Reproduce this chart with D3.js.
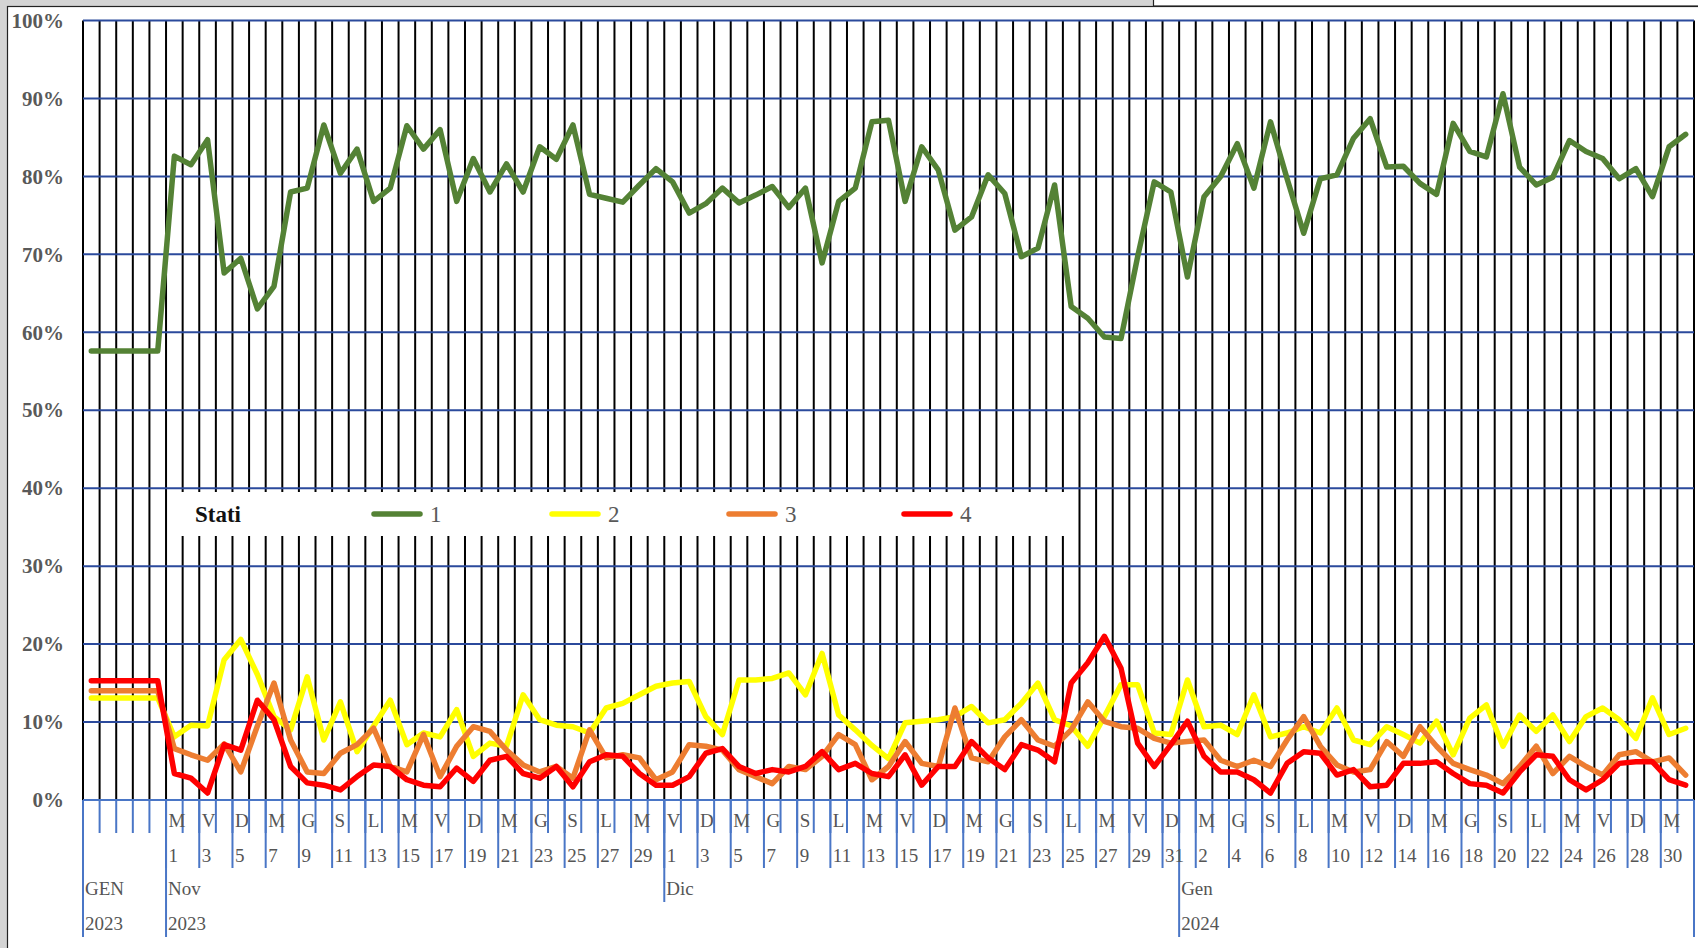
<!DOCTYPE html>
<html>
<head>
<meta charset="utf-8">
<script src="https://cdn.jsdelivr.net/npm/d3@7/dist/d3.min.js"></script>
<style>
  body { margin: 0; background: #d4d4d4; }
  svg { display: block; font-family: "Liberation Serif", "DejaVu Serif", serif; }
</style>
</head>
<body>
<div id="chart"></div>
<script>
// quote giornaliere per stato (%), 5 valori di riferimento GEN 2023 + 1 nov 2023 .. 31 gen 2024
const stato1 = [57.6, 57.6, 57.6, 57.6, 57.6,
  82.6, 81.5, 84.7, 67.6, 69.5, 63.0, 65.9, 78.0, 78.5, 86.6, 80.4, 83.5, 76.8, 78.5, 86.5, 83.5, 86.0, 76.8, 82.3, 78.0,
  81.6, 78.0, 83.8, 82.2, 86.6, 77.7, 77.2, 76.7, 78.9, 81.0, 79.3, 75.3, 76.5, 78.5, 76.6, 77.6, 78.7, 76.0, 78.5, 68.9,
  76.8, 78.5, 87.0, 87.2, 76.8, 83.8, 80.8, 73.1, 74.8, 80.2, 77.8, 69.7, 70.8, 78.9, 63.3, 61.8, 59.4, 59.2, 69.7, 79.3,
  78.0, 67.1, 77.4, 80.0, 84.2, 78.5, 87.0, 79.7, 72.7, 79.7, 80.2, 84.9, 87.4, 81.2, 81.3, 79.1, 77.7, 86.8, 83.2, 82.5,
  90.6, 81.2, 78.9, 79.9, 84.6, 83.2, 82.3, 79.7, 81.0, 77.4, 83.8, 85.4];
const stato2 = [13.1, 13.1, 13.1, 13.1, 13.1,
  8.1, 9.6, 9.5, 18.0, 20.6, 16.1, 10.7, 9.0, 15.8, 7.7, 12.6, 6.2, 9.5, 12.8, 7.1,
  8.6, 8.1, 11.6, 5.6, 7.3, 6.9, 13.5, 10.3, 9.6, 9.4, 8.6, 11.8, 12.4, 13.5, 14.6, 15.0, 15.2, 10.7, 8.4, 15.4,
  15.4, 15.6, 16.3, 13.5, 18.8, 10.9, 9.0, 7.0, 5.3, 9.9, 10.1, 10.3, 10.7, 12.0, 9.9, 10.3, 12.4, 15.0, 10.3, 9.5,
  6.9, 10.7, 14.8, 14.8, 8.6, 8.4, 15.4, 9.4, 9.6, 8.4, 13.5, 8.1, 8.6, 9.4, 8.6, 11.8, 7.7, 7.1, 9.4, 8.4,
  7.3, 10.1, 5.8, 10.5, 12.2, 6.9, 10.9, 8.8, 10.9, 7.5, 10.7, 11.8, 10.3, 7.9, 13.1, 8.4, 9.2];
const stato3 = [14.0, 14.0, 14.0, 14.0, 14.0,
  6.6, 5.8, 5.1, 7.2, 3.6, 9.5, 15.0, 7.7, 3.6, 3.4, 6.0, 7.1, 9.2, 4.3,
  3.6, 8.4, 3.0, 6.9, 9.4, 8.8, 6.4, 4.5, 3.6, 4.3, 2.8, 9.0, 5.4, 5.8, 5.4, 2.6, 3.6, 7.1, 6.9, 6.4,
  3.9, 3.0, 2.1, 4.3, 3.9, 5.6, 8.4, 7.1, 2.6, 4.3, 7.5, 4.7, 4.3, 11.8, 5.4, 4.9, 8.1, 10.3, 7.7, 6.9,
  9.0, 12.6, 10.1, 9.4, 9.2, 7.9, 7.3, 7.5, 7.7, 5.1, 4.3, 5.1, 4.3, 7.7, 10.7, 6.9, 4.5, 3.6, 3.9, 7.5,
  5.6, 9.4, 6.9, 4.7, 3.9, 3.2, 2.1, 4.3, 6.9, 3.4, 5.6, 4.3, 3.2, 5.8, 6.2, 4.9, 5.4, 3.2];
const stato4 = [15.3, 15.3, 15.3, 15.3, 15.3,
  3.4, 2.8, 0.9, 7.1, 6.4, 12.8, 10.3, 4.3, 2.2, 1.9, 1.3, 3.0, 4.5, 4.3,
  2.6, 1.9, 1.7, 4.1, 2.4, 5.1, 5.6, 3.4, 2.8, 4.3, 1.7, 4.9, 5.8, 5.6, 3.4, 1.9, 1.9, 3.0, 6.0, 6.6,
  4.3, 3.4, 3.9, 3.6, 4.3, 6.2, 3.9, 4.7, 3.4, 3.0, 5.8, 1.9, 4.3, 4.3, 7.5, 5.4, 3.9, 7.1, 6.4, 4.9,
  15.0, 17.6, 21.0, 16.9, 7.3, 4.3, 7.1, 10.1, 5.6, 3.6, 3.6, 2.6, 0.9, 4.7, 6.2, 6.0, 3.2, 3.9, 1.7, 1.9,
  4.7, 4.7, 4.9, 3.4, 2.1, 1.9, 0.9, 3.6, 5.8, 5.6, 2.6, 1.3, 2.6, 4.7, 4.9, 4.9, 2.6, 1.9];

const nomiSerie = ["1", "2", "3", "4"];
const coloriSerie = ["#548235", "#ffff00", "#ed7d31", "#ff0000"];

// gruppi dell'asse categorie
const mesi = ["GEN", "Nov", "Dic", "Gen"];
const anni = ["2023", "2023", "", "2024"];
const giorniMese = [5, 30, 31, 31];
const lettereGiorno = ["D", "L", "M", "M", "G", "V", "S"];
const yTicks = [0, 10, 20, 30, 40, 50, 60, 70, 80, 90, 100];

const giorni = d3.timeDay.range(new Date(2023, 10, 1), new Date(2024, 1, 1));
const fmt = d3.timeFormat("%Y-%m-%d");
const categorie = d3.range(giorniMese[0]).map(i => "rif-" + i).concat(giorni.map(fmt));
const serie = [stato1, stato2, stato3, stato4];

const width = 1698, height = 948;
const plotLeft = 83, plotRight = 1694, plotTop = 20.5, plotBottom = 800;

const svg = d3.select("#chart").append("svg")
  .attr("width", width)
  .attr("height", height);

// cornice
svg.append("rect").attr("width", width).attr("height", height).attr("fill", "#d4d4d4");
svg.append("rect")
  .attr("x", 7.5).attr("y", 6.5).attr("width", width).attr("height", height)
  .attr("fill", "#fff").attr("stroke", "#222").attr("stroke-width", 1.2);
svg.append("rect")
  .attr("x", 1153.5).attr("y", -2).attr("width", 560).attr("height", 8)
  .attr("fill", "#fff").attr("stroke", "#222").attr("stroke-width", 1.2);

var x = d3.scaleBand()
  .domain(categorie)
  .range([plotLeft, plotRight])
  .padding(0);

var y = d3.scaleLinear()
  .domain([0, 100])
  .range([plotBottom, plotTop]);

const bordi = d3.range(categorie.length + 1).map(k => k < categorie.length ? x(categorie[k]) : x.range()[1]);

// griglia verticale nera
svg.append("g")
  .selectAll("line")
  .data(bordi)
  .join("line")
  .attr("x1", d => d).attr("x2", d => d)
  .attr("y1", plotTop).attr("y2", plotBottom)
  .attr("stroke", "#000")
  .attr("stroke-width", 2);

// griglia orizzontale blu
svg.append("g")
  .selectAll("line")
  .data(yTicks.filter(d => d > 0))
  .join("line")
  .attr("x1", plotLeft).attr("x2", plotRight)
  .attr("y1", d => y(d)).attr("y2", d => y(d))
  .attr("stroke", "#2b4a9c")
  .attr("stroke-width", 2);

// asse y
var yAxis = svg.append("g")
  .attr("transform", "translate(" + plotLeft + ",0)")
  .call(d3.axisLeft(y).tickValues(yTicks).tickSize(0).tickPadding(19).tickFormat(d => d + "%"));
yAxis.select(".domain").remove();
yAxis.selectAll("text")
  .attr("fill", "#595959")
  .attr("font-size", 21)
  .attr("font-weight", "bold")
  .attr("font-family", "Liberation Serif, serif");

// legenda (sotto le linee)
const legenda = svg.append("g");
legenda.append("rect")
  .attr("x", 168).attr("y", 492).attr("width", 910).attr("height", 44)
  .attr("fill", "#fff");
legenda.append("text")
  .attr("x", 195).attr("y", 522)
  .attr("font-size", 23).attr("font-weight", "bold").attr("fill", "#111")
  .text("Stati");
const legendaX = [374, 552, 729, 904];
nomiSerie.forEach((nome, k) => {
  legenda.append("line")
    .attr("x1", legendaX[k]).attr("x2", legendaX[k] + 46)
    .attr("y1", 514).attr("y2", 514)
    .attr("stroke", coloriSerie[k]).attr("stroke-width", 5.5).attr("stroke-linecap", "round");
  legenda.append("text")
    .attr("x", legendaX[k] + 56).attr("y", 522)
    .attr("font-size", 23).attr("fill", "#595959")
    .text(nome);
});

// asse x (zero) e tacche
const blu = "#4a76c6";
svg.append("line")
  .attr("x1", plotLeft).attr("x2", plotRight)
  .attr("y1", plotBottom).attr("y2", plotBottom)
  .attr("stroke", blu).attr("stroke-width", 2);

const tacche = svg.append("g").attr("stroke", blu).attr("stroke-width", 2);
tacche.selectAll("line.corta")
  .data(bordi)
  .join("line")
  .attr("x1", d => d).attr("x2", d => d)
  .attr("y1", plotBottom).attr("y2", 833);

const etichettati = d3.range(giorniMese[0], categorie.length, 2);
tacche.selectAll("line.media")
  .data(etichettati)
  .join("line")
  .attr("x1", i => x(categorie[i])).attr("x2", i => x(categorie[i]))
  .attr("y1", plotBottom).attr("y2", 868);

const inizioMese = Array.from(d3.cumsum([0].concat(giorniMese))).slice(0, mesi.length);
const bordiMese = inizioMese.map((s, k) => ({ x: x(categorie[s]), anno: anni[k] !== "" }))
  .concat([{ x: x.range()[1], anno: true }]);
tacche.selectAll("line.mese")
  .data(bordiMese)
  .join("line")
  .attr("x1", d => d.x).attr("x2", d => d.x)
  .attr("y1", plotBottom).attr("y2", d => d.anno ? 937 : 902);

// etichette giorni
const etich = svg.append("g").attr("fill", "#555").attr("font-size", 19);
etich.selectAll("text.lettera")
  .data(etichettati)
  .join("text")
  .attr("x", i => x(categorie[i]) + 2.5)
  .attr("y", 827)
  .text(i => lettereGiorno[giorni[i - giorniMese[0]].getDay()]);
etich.selectAll("text.numero")
  .data(etichettati)
  .join("text")
  .attr("x", i => x(categorie[i]) + 2.5)
  .attr("y", 862)
  .text(i => giorni[i - giorniMese[0]].getDate());
etich.selectAll("text.mese")
  .data(inizioMese)
  .join("text")
  .attr("x", s => x(categorie[s]) + 2)
  .attr("y", 895)
  .text((s, k) => mesi[k]);
etich.selectAll("text.anno")
  .data(inizioMese)
  .join("text")
  .attr("x", s => x(categorie[s]) + 2)
  .attr("y", 930)
  .text((s, k) => anni[k]);

// linee delle serie
var line = d3.line()
  .x((d, i) => x(categorie[i]) + x.bandwidth() / 2)
  .y(d => y(d));

svg.append("g")
  .selectAll("path")
  .data(serie)
  .join("path")
  .attr("d", d => line(d))
  .attr("fill", "none")
  .attr("stroke", (d, k) => coloriSerie[k])
  .attr("stroke-width", 5.5)
  .attr("stroke-linejoin", "round")
  .attr("stroke-linecap", "round");
</script>
</body>
</html>
